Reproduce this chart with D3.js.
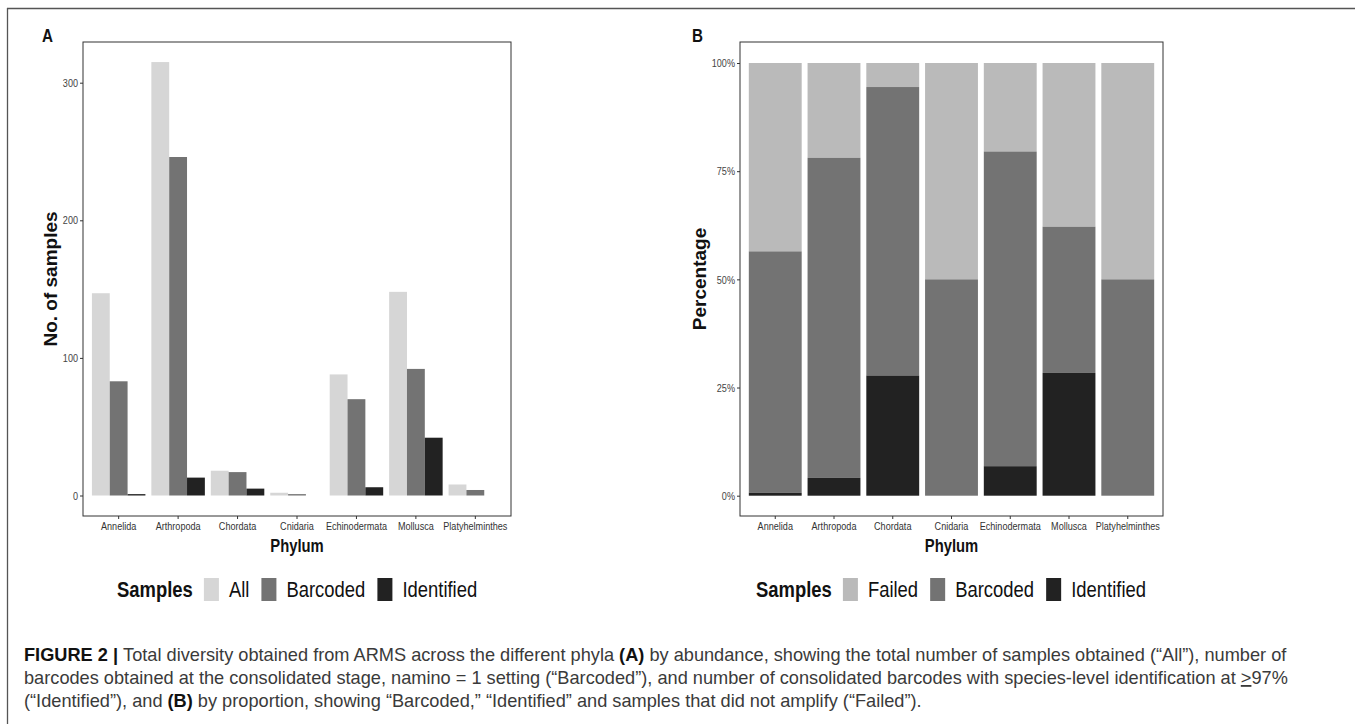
<!DOCTYPE html>
<html>
<head>
<meta charset="utf-8">
<script src="https://cdn.jsdelivr.net/npm/d3@7"></script>
<style>
  body { margin: 0; background: #fff; }
  svg { display: block; }
</style>
</head>
<body>
<div id="fig"></div>
<script>
// ---- data ----
const phyla = ['Annelida', 'Arthropoda', 'Chordata', 'Cnidaria', 'Echinodermata', 'Mollusca', 'Platyhelminthes'];
const allCounts = [147, 315, 18, 2, 88, 148, 8];
const barcodedCounts = [83, 246, 17, 1, 70, 92, 4];
const identifiedCounts = [1, 13, 5, 0, 6, 42, 0];
const countTicks = [0, 100, 200, 300];
const pctTicks = [0, 0.25, 0.5, 0.75, 1];

const seriesA = ['All', 'Barcoded', 'Identified'];
const seriesB = ['Failed', 'Barcoded', 'Identified'];
const colors = { All: '#d6d6d6', Failed: '#bababa', Barcoded: '#737373', Identified: '#222222' };

const W = 1355, H = 724;
const font = "'Liberation Sans', Arial, Helvetica, sans-serif";

const svg = d3.select('#fig').append('svg').attr('width', W).attr('height', H)
  .attr('font-family', font);

// the figure's text is horizontally condensed: scale x, keep the anchor point
function squeeze(sel, k = 0.8) {
  sel.each(function () {
    const t = d3.select(this);
    const x = +(t.attr('x') || 0);
    t.attr('x', x / k).attr('transform', `scale(${k},1)`);
  });
  return sel;
}

// outer frame (top and left rules)
svg.append('line').attr('x1', 7).attr('x2', W).attr('y1', 8.5).attr('y2', 8.5)
  .attr('stroke', '#555').attr('stroke-width', 1.3);
svg.append('line').attr('x1', 7.5).attr('x2', 7.5).attr('y1', 8).attr('y2', H)
  .attr('stroke', '#555').attr('stroke-width', 1.3);

const plotTop = 42, plotBottom = 516;

function drawFrame(g, x0, x1) {
  g.append('rect').attr('x', x0).attr('y', plotTop).attr('width', x1 - x0).attr('height', plotBottom - plotTop)
    .attr('fill', 'none').attr('stroke', '#333').attr('stroke-width', 1);
}

function styleAxis(sel) {
  sel.select('.domain').remove();
  sel.selectAll('.tick line').attr('stroke', '#333');
  sel.selectAll('.tick text').attr('fill', '#444').attr('font-size', 11.5).attr('font-family', font)
    .call(squeeze, 0.79);
}

function drawLegend(g, startX, baseY, labels) {
  const k = 0.82;
  let x = startX;
  const t = g.append('text').attr('x', x).attr('y', baseY)
    .attr('font-weight', 'bold').attr('font-size', 22.5).attr('fill', '#111').text('Samples');
  x += t.node().getComputedTextLength() * k + 11;
  squeeze(t, k);
  labels.forEach((lab) => {
    g.append('rect').attr('x', x).attr('y', baseY - 19).attr('width', 15).attr('height', 23)
      .attr('fill', colors[lab]);
    x += 25;
    const lt = g.append('text').attr('x', x).attr('y', baseY)
      .attr('font-size', 22.5).attr('fill', '#111').text(lab);
    const ll = lt.node().getComputedTextLength() * k;
    squeeze(lt, k);
    x += ll + 12;
  });
}

// ---------------- Panel A ----------------
const gA = svg.append('g');
const xA = d3.scaleBand().domain(phyla).range([83, 511]).paddingInner(0.1).paddingOuter(0.15);
const xSub = d3.scaleBand().domain(seriesA).range([0, xA.bandwidth()]);
const yA = d3.scaleLinear().domain([0, 300]).range([495.5, 82.7]);

const rowsA = phyla.map((p, i) => ({
  phylum: p,
  values: [
    { key: 'All', v: allCounts[i] },
    { key: 'Barcoded', v: barcodedCounts[i] },
    { key: 'Identified', v: identifiedCounts[i] },
  ],
}));

gA.selectAll('g.grp').data(rowsA).enter().append('g').attr('class', 'grp')
  .attr('transform', (d) => `translate(${xA(d.phylum)},0)`)
  .selectAll('rect').data((d) => d.values).enter().append('rect')
  .attr('x', (d) => xSub(d.key))
  .attr('width', xSub.bandwidth())
  .attr('y', (d) => yA(d.v))
  .attr('height', (d) => yA(0) - yA(d.v))
  .attr('fill', (d) => colors[d.key]);

drawFrame(gA, 83, 511);

gA.append('g').attr('transform', `translate(83,0)`)
  .call(d3.axisLeft(yA).tickValues(countTicks).tickSize(3).tickPadding(2).tickFormat(d3.format('d')))
  .call(styleAxis);
gA.append('g').attr('transform', `translate(0,${plotBottom})`)
  .call(d3.axisBottom(xA).tickSize(3).tickPadding(3))
  .call(styleAxis)
  .selectAll('.tick text').attr('fill', '#333');

gA.append('text').attr('x', 297).attr('y', 552).attr('text-anchor', 'middle')
  .attr('font-weight', 'bold').attr('font-size', 18.5).attr('fill', '#111').text('Phylum').call(squeeze);
gA.append('text').attr('transform', `translate(57,279) rotate(-90)`).attr('text-anchor', 'middle')
  .attr('font-weight', 'bold').attr('font-size', 19).attr('fill', '#111').text('No. of samples');
gA.append('text').attr('x', 42).attr('y', 42).attr('font-weight', 'bold')
  .attr('font-size', 19).attr('fill', '#111').text('A').call(squeeze);

drawLegend(gA, 117, 597, seriesA);

// ---------------- Panel B ----------------
const gB = svg.append('g');
const xB = d3.scaleBand().domain(phyla).range([740, 1163]).paddingInner(0.1).paddingOuter(0.15);
const yB = d3.scaleLinear().domain([0, 1]).range([495.7, 63]);

const rowsB = phyla.map((p, i) => {
  const idShare = identifiedCounts[i] / allCounts[i];
  const bcShare = barcodedCounts[i] / allCounts[i];
  return {
    phylum: p,
    segs: [
      { key: 'Failed', y0: bcShare, y1: 1 },
      { key: 'Barcoded', y0: idShare, y1: bcShare },
      { key: 'Identified', y0: 0, y1: idShare },
    ],
  };
});

gB.selectAll('g.stack').data(rowsB).enter().append('g').attr('class', 'stack')
  .attr('transform', (d) => `translate(${xB(d.phylum)},0)`)
  .selectAll('rect').data((d) => d.segs).enter().append('rect')
  .attr('x', 0)
  .attr('width', xB.bandwidth())
  .attr('y', (d) => yB(d.y1))
  .attr('height', (d) => yB(d.y0) - yB(d.y1))
  .attr('fill', (d) => colors[d.key]);

drawFrame(gB, 740, 1163);

gB.append('g').attr('transform', `translate(740,0)`)
  .call(d3.axisLeft(yB).tickValues(pctTicks).tickSize(3).tickPadding(2).tickFormat(d3.format('.0%')))
  .call(styleAxis);
gB.append('g').attr('transform', `translate(0,${plotBottom})`)
  .call(d3.axisBottom(xB).tickSize(3).tickPadding(3))
  .call(styleAxis)
  .selectAll('.tick text').attr('fill', '#333');

gB.append('text').attr('x', 951.5).attr('y', 552).attr('text-anchor', 'middle')
  .attr('font-weight', 'bold').attr('font-size', 18.5).attr('fill', '#111').text('Phylum').call(squeeze);
gB.append('text').attr('transform', `translate(706,279) rotate(-90)`).attr('text-anchor', 'middle')
  .attr('font-weight', 'bold').attr('font-size', 19).attr('fill', '#111').text('Percentage');
gB.append('text').attr('x', 692).attr('y', 42).attr('font-weight', 'bold')
  .attr('font-size', 19).attr('fill', '#111').text('B').call(squeeze);

drawLegend(gB, 756, 597, seriesB);

// ---------------- caption ----------------
const cap = svg.append('g').attr('font-size', 18.2).attr('fill', '#3a3a3a');
const l1 = cap.append('text').attr('x', 24).attr('y', 661);
l1.append('tspan').attr('font-weight', 'bold').attr('fill', '#111').text('FIGURE 2 | ');
l1.append('tspan').text('Total diversity obtained from ARMS across the different phyla ');
l1.append('tspan').attr('font-weight', 'bold').attr('fill', '#111').text('(A)');
l1.append('tspan').text(' by abundance, showing the total number of samples obtained (\u201cAll\u201d), number of');

const l2 = cap.append('text').attr('x', 24).attr('y', 684);
l2.append('tspan').text('barcodes obtained at the consolidated stage, namino = 1 setting (\u201cBarcoded\u201d), and number of consolidated barcodes with species-level identification at ');
l2.append('tspan').style('text-decoration', 'underline').text('>');
l2.append('tspan').text('97%');

const l3 = cap.append('text').attr('x', 24).attr('y', 707);
l3.append('tspan').text('(\u201cIdentified\u201d), and ');
l3.append('tspan').attr('font-weight', 'bold').attr('fill', '#111').text('(B)');
l3.append('tspan').text(' by proportion, showing \u201cBarcoded,\u201d \u201cIdentified\u201d and samples that did not amplify (\u201cFailed\u201d).');
</script>
</body>
</html>
